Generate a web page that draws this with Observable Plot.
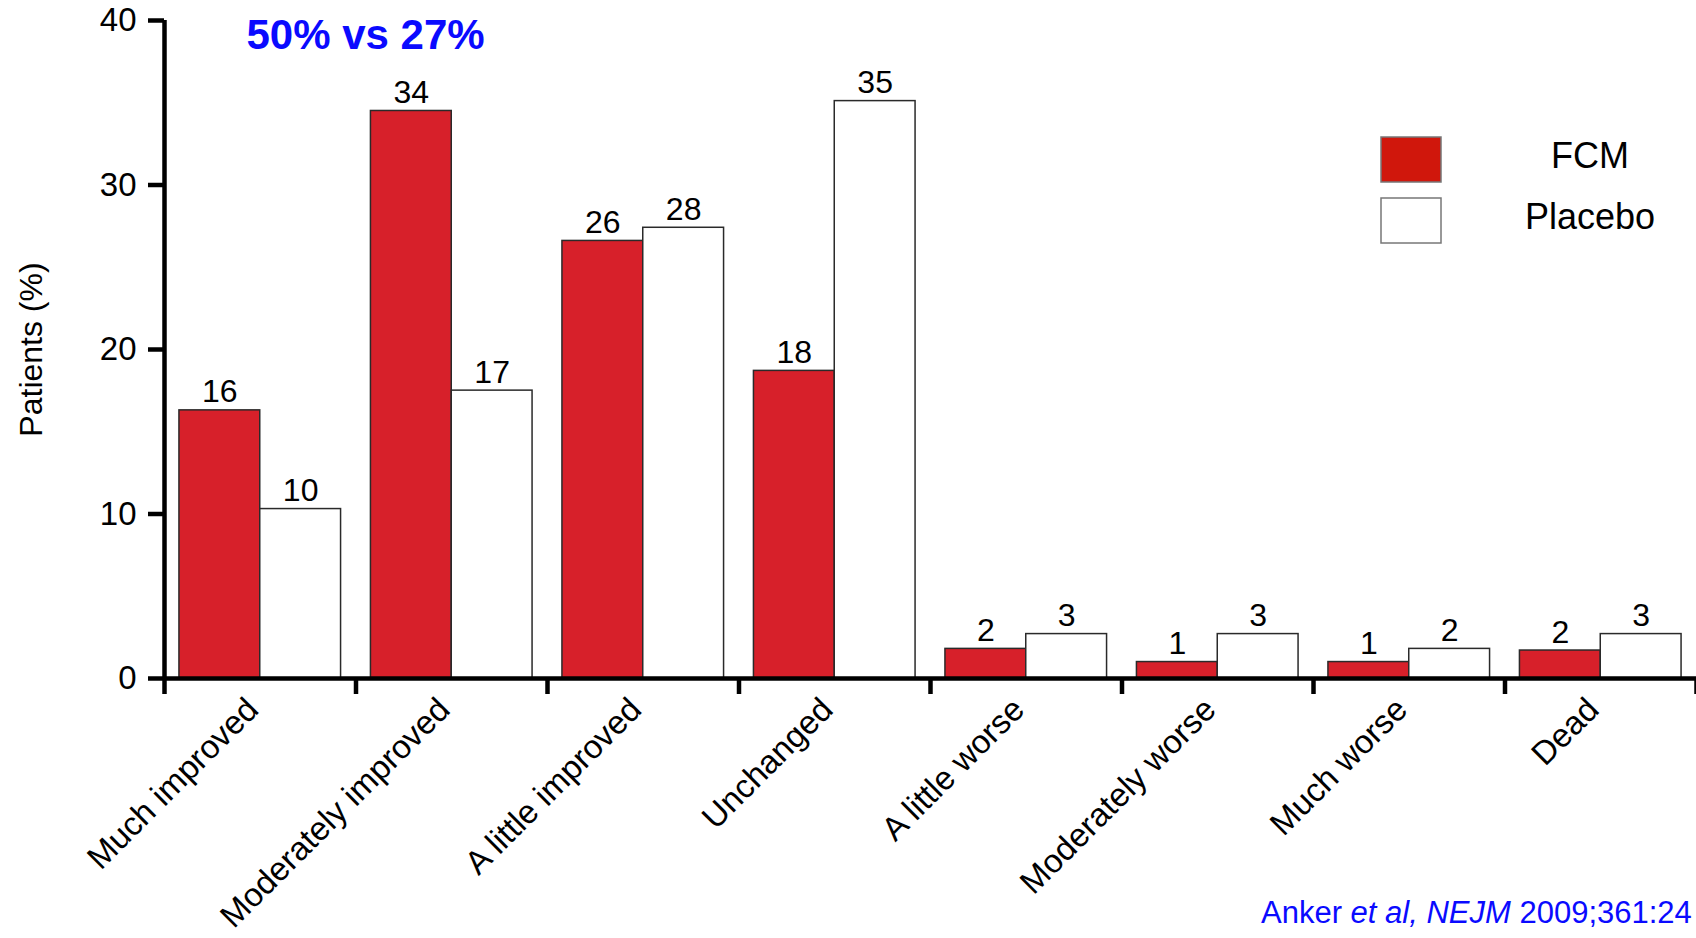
<!DOCTYPE html>
<html>
<head>
<meta charset="utf-8">
<script src="https://cdn.jsdelivr.net/npm/d3@7"></script>
<script src="https://cdn.jsdelivr.net/npm/@observablehq/plot@0.6"></script>
<style>
  html, body { margin: 0; padding: 0; background: #fff; overflow: hidden; }
  #chart { position: relative; width: 1696px; height: 938px; }
</style>
</head>
<body>
<div id="chart"></div>
<script>
// ---- data ----
const categories = ["Much improved", "Moderately improved", "A little improved", "Unchanged",
                    "A little worse", "Moderately worse", "Much worse", "Dead"];
const groups = ["FCM", "Placebo"];
const fcmValues = [16.3, 34.5, 26.6, 18.7, 1.8, 1.0, 1.0, 1.7];
const placeboValues = [10.3, 17.5, 27.4, 35.1, 2.7, 2.7, 1.8, 2.7];
const fcmLabels = ["16", "34", "26", "18", "2", "1", "1", "2"];
const placeboLabels = ["10", "17", "28", "35", "3", "3", "2", "3"];
const yTicks = [0, 10, 20, 30, 40];
const title = "50% vs 27%";
const yLabel = "Patients (%)";
const captionParts = [["Anker ", "normal"], ["et al, NEJM", "italic"], [" 2009;361:24", "normal"]];

// ---- styling ----
const font = "'Liberation Sans', Arial, Helvetica, sans-serif";
const colors = ["#d7202a", "#ffffff"];
const legendColors = ["#d0170c", "#ffffff"];
const pad = 0.078; // outer padding of each category slot (fraction of slot)
const axisW = 4.5;

const rows = categories.flatMap((c, i) => [
  {cat: c, i, group: "FCM", value: fcmValues[i], label: fcmLabels[i]},
  {cat: c, i, group: "Placebo", value: placeboValues[i], label: placeboLabels[i]}
]);
const left = d => d.i + (d.group === "FCM" ? pad : 0.5);
const right = d => d.i + (d.group === "FCM" ? 0.5 : 1 - pad);

const W = 1696, H = 938;
const svg = Plot.plot({
  width: W,
  height: H,
  marginLeft: 164,
  marginRight: 0,
  marginTop: 20,
  marginBottom: 260,
  style: {fontFamily: font, background: "#fff", color: "#000", overflow: "visible"},
  x: {type: "linear", domain: [0, categories.length], axis: null},
  y: {domain: [0, 40], axis: null},
  color: {domain: groups, range: colors},
  marks: [
    Plot.rect(rows, {x1: left, x2: right, y1: () => 0, y2: "value", fill: "group",
                     stroke: "#2a2a2a", strokeWidth: 1.5}),
    Plot.text(rows, {x: d => (left(d) + right(d)) / 2, y: "value", text: "label",
                     dy: -8, lineAnchor: "bottom", fontSize: 32, fill: "#000"}),
    Plot.axisY({ticks: yTicks, tickSize: 16, tickPadding: 12, fontSize: 33,
                strokeWidth: axisW, label: null, tickFormat: d => String(d)}),
    Plot.axisX({ticks: d3.range(categories.length + 1), tickSize: 16, tickFormat: () => "",
                strokeWidth: axisW, label: null}),
    Plot.ruleY([0], {strokeWidth: axisW, stroke: "#000"}),
    Plot.ruleX([0], {y1: () => 0, y2: () => 40, strokeWidth: axisW, stroke: "#000"}),
    Plot.text(categories, {x: (d, i) => i + 0.5, y: () => 0, text: d => d, rotate: -45,
                           textAnchor: "end", lineAnchor: "bottom", dy: 33, fontSize: 33, fill: "#000"}),
    Plot.text([yLabel], {frameAnchor: "left", dx: -133, rotate: -90, textAnchor: "middle",
                         fontSize: 32, fill: "#000"}),
    Plot.text([title], {frameAnchor: "top-left", dx: 82, dy: 28, textAnchor: "start",
                        lineAnchor: "bottom", fontSize: 42, fontWeight: "bold", fill: "#0a0aff"})
  ]
});

// legend
const s = d3.select(svg);
const leg = s.append("g").attr("font-family", font).attr("font-size", 36);
groups.forEach((g, k) => {
  const y0 = 137 + k * 61;
  leg.append("rect").attr("x", 1381).attr("y", y0).attr("width", 60).attr("height", 45)
    .attr("fill", legendColors[k]).attr("stroke", "#777").attr("stroke-width", 1.5);
  leg.append("text").attr("x", 1590).attr("y", y0 + 31).attr("text-anchor", "middle")
    .attr("fill", "#000").text(g);
});

// caption
const cap = s.append("text").attr("x", 1261).attr("y", 923).attr("text-anchor", "start")
  .attr("font-family", font).attr("font-size", 31).attr("fill", "#0a0aff");
captionParts.forEach(([t, st]) => cap.append("tspan").attr("font-style", st).text(t));

document.getElementById("chart").appendChild(svg);
</script>
</body>
</html>
